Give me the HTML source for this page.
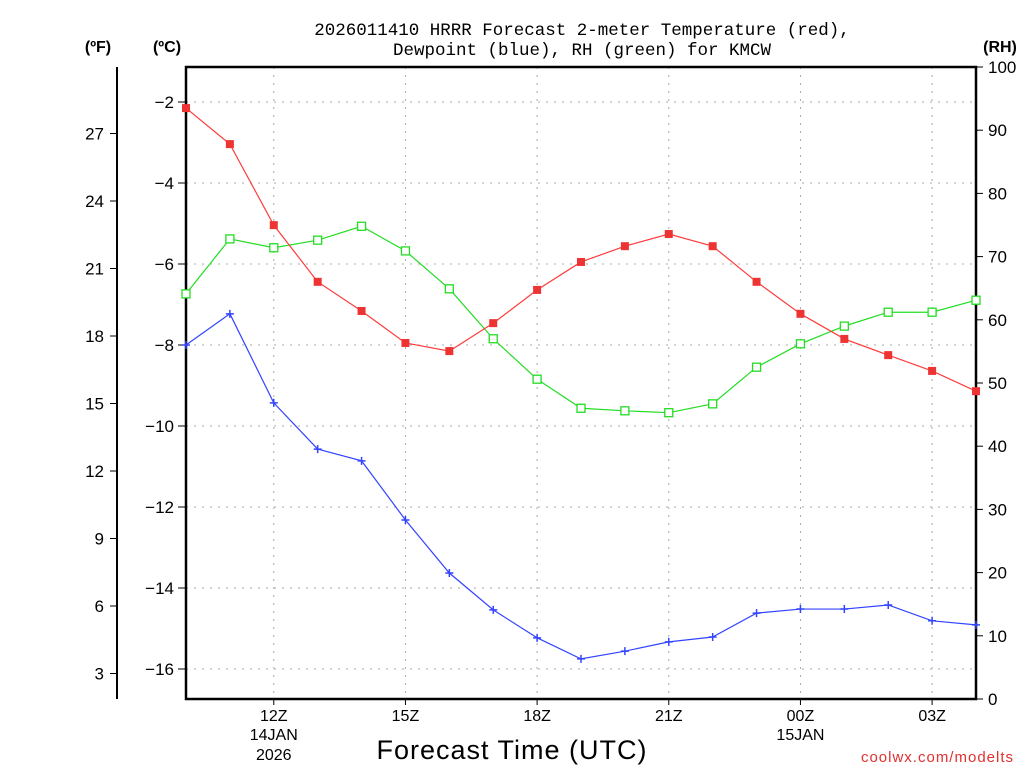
<!DOCTYPE html>
<html><head><meta charset="utf-8"><style>
html,body{margin:0;padding:0;background:#fff;}
svg{display:block;font-family:"Liberation Sans",sans-serif;}
</style></head><body>
<svg id="chart" width="1024" height="768" viewBox="0 0 1024 768">
<g id="grid"></g>
<g id="axes"></g>
<g id="series"></g>
<text x="582" y="35" text-anchor="middle" font-size="17.5" font-family="Liberation Mono, monospace" fill="#000">2026011410 HRRR Forecast 2-meter Temperature (red),</text>
<text x="582" y="55" text-anchor="middle" font-size="17.5" font-family="Liberation Mono, monospace" fill="#000">Dewpoint (blue), RH (green) for KMCW</text>
<text x="98" y="52" text-anchor="middle" font-size="16" font-weight="bold">(ºF)</text>
<text x="167" y="52" text-anchor="middle" font-size="16" font-weight="bold">(ºC)</text>
<text x="1000" y="52" text-anchor="middle" font-size="16" font-weight="bold">(RH)</text>
<text x="512" y="759" text-anchor="middle" font-size="27" letter-spacing="1">Forecast Time (UTC)</text>
<text x="1014" y="762" text-anchor="end" font-size="15" fill="#e03030" letter-spacing="1">coolwx.com/modelts</text>
</svg>
<script>
const hours = [10,11,12,13,14,15,16,17,18,19,20,21,22,23,24,25,26,27,28];
const tempC = [-2.15,-3.04,-5.04,-6.44,-7.16,-7.95,-8.15,-7.46,-6.64,-5.95,-5.56,-5.26,-5.56,-6.44,-7.23,-7.85,-8.25,-8.64,-9.14];
const dewC = [-8.0,-7.23,-9.43,-10.57,-10.86,-12.32,-13.63,-14.54,-15.23,-15.75,-15.56,-15.33,-15.21,-14.62,-14.52,-14.52,-14.42,-14.81,-14.91];
const rh = [64.1,72.8,71.4,72.6,74.8,70.9,64.9,57.0,50.6,46.0,45.6,45.3,46.7,52.5,56.2,59.0,61.2,61.2,63.1];
const celsiusTicks = [-2,-4,-6,-8,-10,-12,-14,-16];
const fahrenheitTicks = [27,24,21,18,15,12,9,6,3];
const rhTicks = [0,10,20,30,40,50,60,70,80,90,100];
const xTickHours = [12,15,18,21,24,27];
const xTickLabels = ["12Z","15Z","18Z","21Z","00Z","03Z"];

const L=186,R=976,T=67,B=699;
const xS=h=>L+(h-10)*(R-L)/18;
const yC=c=>102+(-2-c)*40.5;
const yF=f=>yC((f-32)/1.8);
const yR=v=>B-v*(B-T)/100;
const NS="http://www.w3.org/2000/svg";
function mk(tag,attrs,parent){const e=document.createElementNS(NS,tag);for(const k in attrs)e.setAttribute(k,attrs[k]);parent.appendChild(e);return e;}
const grid=document.getElementById('grid'),axes=document.getElementById('axes'),series=document.getElementById('series');

celsiusTicks.forEach(c=>{const y=yC(c);
 const g=mk('line',{x1:L,x2:R,y1:y,y2:y,stroke:'#aaa','stroke-dasharray':'2,6'},grid);
 
 
 const t=mk('line',{x1:L-8,x2:L,y1:y,y2:y,stroke:'#000'},axes);
 
 
 const tx=mk('text',{x:L-12,y:y+6,'text-anchor':'end','font-size':'17'},axes);tx.textContent=(c<0?'\u2212'+(-c):c);
 
 
});
xTickHours.forEach((h,i)=>{const x=xS(h);
 const g=mk('line',{x1:x,x2:x,y1:T,y2:B,stroke:'#aaa','stroke-dasharray':'2,6'},grid);
 
 
 const t=mk('line',{x1:x,x2:x,y1:B,y2:B+6,stroke:'#000'},axes);
 
 
 const tx=mk('text',{x:x,y:B+22,'text-anchor':'middle','font-size':'16'},axes);tx.textContent=xTickLabels[i];
 
 
});
[["14JAN",12,740],["2026",12,760],["15JAN",24,740]].forEach(d=>{
 const tx=mk('text',{x:xS(d[1]),y:d[2],'text-anchor':'middle','font-size':'16'},axes);tx.textContent=d[0];
 
 
});
fahrenheitTicks.forEach(f=>{const y=yF(f);
 const t=mk('line',{x1:110,x2:117,y1:y,y2:y,stroke:'#000'},axes);
 
 
 const tx=mk('text',{x:104,y:y+6,'text-anchor':'end','font-size':'17'},axes);tx.textContent=f;
 
 
});
const fl=mk('line',{x1:117,x2:117,y1:T,y2:B,stroke:'#000','stroke-width':2},axes);


rhTicks.forEach(v=>{const y=yR(v);
 const t=mk('line',{x1:R,x2:R+7,y1:y,y2:y,stroke:'#000'},axes);
 
 
 const tx=mk('text',{x:R+12,y:y+6,'font-size':'17'},axes);tx.textContent=v;
 
 
});
const fr=mk('rect',{x:L,y:T,width:R-L,height:B-T,fill:'none',stroke:'#000','stroke-width':2.5},axes);



function line(vals,yf,color,name){
 const pts=vals.map((v,i)=>xS(hours[i])+','+yf(v)).join(' ');
 const p=mk('polyline',{points:pts,fill:'none',stroke:color,'stroke-width':1.2},series);
 
 
}
line(rh,yR,'#22dd22','rh-line');
line(dewC,yC,'#3344ff','dewpoint-line');
line(tempC,yC,'#ff3b3b','temperature-line');
rh.forEach((v,i)=>{const m=mk('rect',{x:xS(hours[i])-4,y:yR(v)-4,width:8,height:8,fill:'#fff',stroke:'#22dd22','stroke-width':1.3},series);
 
 });
dewC.forEach((v,i)=>{const x=xS(hours[i]),y=yC(v);
 const m=mk('path',{d:`M${x-4},${y}H${x+4}M${x},${y-4}V${y+4}`,stroke:'#3344ff','stroke-width':1.5},series);
 
 });
tempC.forEach((v,i)=>{const m=mk('rect',{x:xS(hours[i])-4,y:yC(v)-4,width:8,height:8,fill:'#ee3333'},series);
 
 });
</script>
</body></html>
